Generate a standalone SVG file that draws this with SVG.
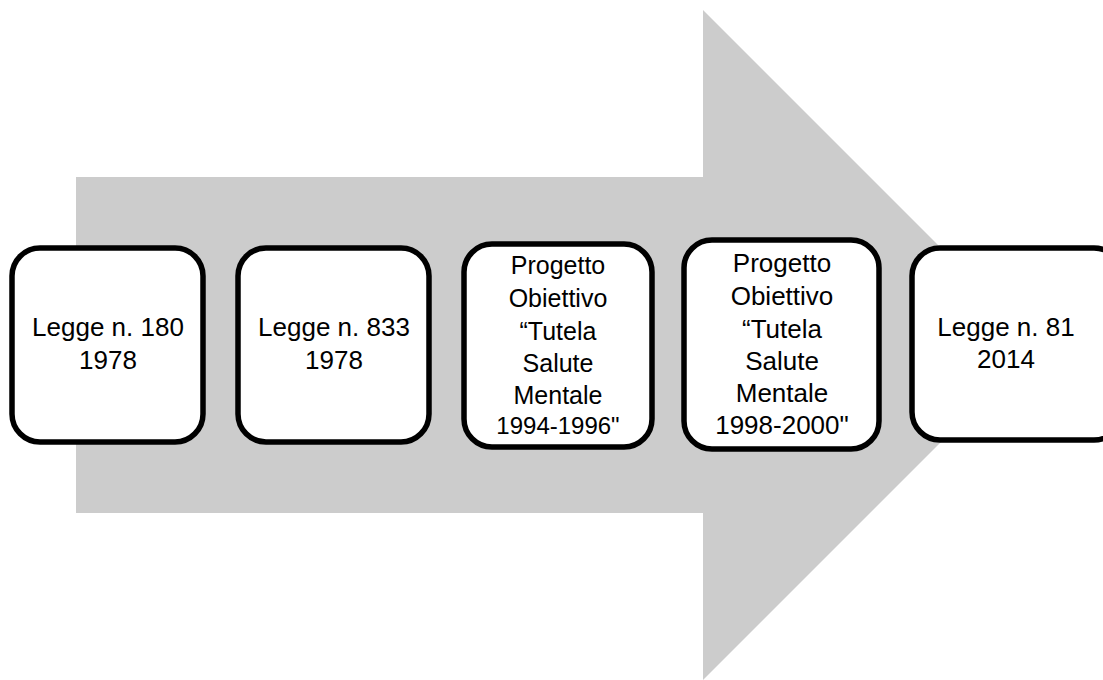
<svg xmlns="http://www.w3.org/2000/svg" width="1103" height="680" viewBox="0 0 1103 680">
  <style>
    .box { fill: #ffffff; stroke: #000000; stroke-width: 5.5; }
    .lbl { font-family: "Liberation Sans", Arial, sans-serif; font-size: 26px; fill: #000000; text-anchor: middle; }
    .sm { font-size: 25px; }
  </style>
  <rect width="1103" height="680" fill="#ffffff"/>

  <!-- Background timeline arrow -->
  <g id="connectors">
    <polygon points="76,177 703,177 703,10 1038,345 703,680 703,513 76,513" fill="#cccccc"/>
  </g>

  <g id="node-legge-180">
    <rect class="box" x="12" y="248" width="191" height="194" rx="28"/>
    <text class="lbl" x="108" y="336">Legge n. 180</text>
    <text class="lbl" x="108" y="369">1978</text>
  </g>

  <g id="node-legge-833">
    <rect class="box" x="238" y="248" width="191" height="194" rx="28"/>
    <text class="lbl" x="334" y="336">Legge n. 833</text>
    <text class="lbl" x="334" y="369">1978</text>
  </g>

  <g id="node-po-1994">
    <rect class="box" x="464" y="244" width="188" height="203" rx="28"/>
    <text class="lbl sm" x="558" y="274">Progetto</text>
    <text class="lbl sm" x="558" y="307">Obiettivo</text>
    <text class="lbl sm" x="558" y="340">“Tutela</text>
    <text class="lbl sm" x="558" y="372">Salute</text>
    <text class="lbl sm" x="558" y="404">Mentale</text>
    <text class="lbl sm" x="558" y="434" style="font-size:24px">1994-1996"</text>
  </g>

  <g id="node-po-1998">
    <rect class="box" x="684" y="240" width="195" height="209" rx="28"/>
    <text class="lbl" x="782" y="272">Progetto</text>
    <text class="lbl" x="782" y="305">Obiettivo</text>
    <text class="lbl" x="782" y="338">“Tutela</text>
    <text class="lbl" x="782" y="370">Salute</text>
    <text class="lbl" x="782" y="402">Mentale</text>
    <text class="lbl" x="782" y="434">1998-2000"</text>
  </g>

  <g id="node-legge-81">
    <rect class="box" x="912" y="248" width="210" height="192" rx="28"/>
    <text class="lbl" x="1006" y="336">Legge n. 81</text>
    <text class="lbl" x="1006" y="368">2014</text>
  </g>
</svg>
